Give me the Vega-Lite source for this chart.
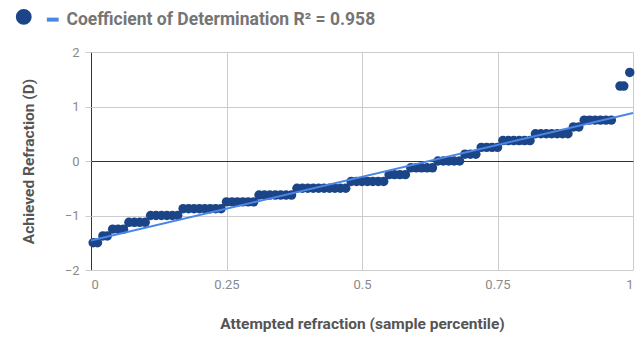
{
  "$schema": "https://vega.github.io/schema/vega-lite/v6.json",
  "width": 542,
  "height": 218,
  "autosize": "none",
  "padding": {"left": 91, "top": 52, "right": 8, "bottom": 67},
  "background": "white",
  "config": {
    "font": "Roboto",
    "view": {"stroke": null},
    "axis": {"labelFont": "Roboto", "labelColor": "#8a8a8a", "labelFontSize": 12, "titleFont": "Roboto", "titleColor": "#555555", "titleFontSize": 15.5, "titleFontWeight": "bold", "domain": false, "gridColor": "#cccccc", "gridOpacity": 1}
  },
  "datasets": {
    "pts": [
      {"x": 0.004, "y": -1.5}, {"x": 0.012, "y": -1.5},
      {"x": 0.022, "y": -1.375}, {"x": 0.03, "y": -1.375},
      {"x": 0.04, "y": -1.25}, {"x": 0.05, "y": -1.25}, {"x": 0.06, "y": -1.25},
      {"x": 0.07, "y": -1.125}, {"x": 0.08, "y": -1.125}, {"x": 0.09, "y": -1.125}, {"x": 0.1, "y": -1.125},
      {"x": 0.11, "y": -1.0}, {"x": 0.12, "y": -1.0}, {"x": 0.13, "y": -1.0}, {"x": 0.14, "y": -1.0}, {"x": 0.15, "y": -1.0}, {"x": 0.16, "y": -1.0},
      {"x": 0.17, "y": -0.875}, {"x": 0.18, "y": -0.875}, {"x": 0.19, "y": -0.875}, {"x": 0.2, "y": -0.875}, {"x": 0.21, "y": -0.875}, {"x": 0.22, "y": -0.875}, {"x": 0.23, "y": -0.875}, {"x": 0.24, "y": -0.875},
      {"x": 0.25, "y": -0.75}, {"x": 0.26, "y": -0.75}, {"x": 0.27, "y": -0.75}, {"x": 0.28, "y": -0.75}, {"x": 0.29, "y": -0.75}, {"x": 0.3, "y": -0.75},
      {"x": 0.31, "y": -0.625}, {"x": 0.32, "y": -0.625}, {"x": 0.33, "y": -0.625}, {"x": 0.34, "y": -0.625}, {"x": 0.35, "y": -0.625}, {"x": 0.36, "y": -0.625}, {"x": 0.37, "y": -0.625},
      {"x": 0.38, "y": -0.5}, {"x": 0.39, "y": -0.5}, {"x": 0.4, "y": -0.5}, {"x": 0.41, "y": -0.5}, {"x": 0.42, "y": -0.5}, {"x": 0.43, "y": -0.5}, {"x": 0.44, "y": -0.5}, {"x": 0.45, "y": -0.5}, {"x": 0.46, "y": -0.5}, {"x": 0.47, "y": -0.5},
      {"x": 0.48, "y": -0.375}, {"x": 0.49, "y": -0.375}, {"x": 0.5, "y": -0.375}, {"x": 0.51, "y": -0.375}, {"x": 0.52, "y": -0.375}, {"x": 0.53, "y": -0.375}, {"x": 0.54, "y": -0.375},
      {"x": 0.55, "y": -0.25}, {"x": 0.56, "y": -0.25}, {"x": 0.57, "y": -0.25}, {"x": 0.58, "y": -0.25},
      {"x": 0.59, "y": -0.125}, {"x": 0.6, "y": -0.125}, {"x": 0.61, "y": -0.125}, {"x": 0.62, "y": -0.125}, {"x": 0.63, "y": -0.125},
      {"x": 0.64, "y": 0}, {"x": 0.65, "y": 0}, {"x": 0.66, "y": 0}, {"x": 0.67, "y": 0}, {"x": 0.68, "y": 0},
      {"x": 0.69, "y": 0.125}, {"x": 0.7, "y": 0.125}, {"x": 0.71, "y": 0.125},
      {"x": 0.72, "y": 0.25}, {"x": 0.73, "y": 0.25}, {"x": 0.74, "y": 0.25}, {"x": 0.75, "y": 0.25},
      {"x": 0.76, "y": 0.375}, {"x": 0.77, "y": 0.375}, {"x": 0.78, "y": 0.375}, {"x": 0.79, "y": 0.375}, {"x": 0.8, "y": 0.375}, {"x": 0.81, "y": 0.375},
      {"x": 0.82, "y": 0.5}, {"x": 0.83, "y": 0.5}, {"x": 0.84, "y": 0.5}, {"x": 0.85, "y": 0.5}, {"x": 0.86, "y": 0.5}, {"x": 0.87, "y": 0.5}, {"x": 0.88, "y": 0.5},
      {"x": 0.89, "y": 0.625}, {"x": 0.9, "y": 0.625},
      {"x": 0.91, "y": 0.75}, {"x": 0.92, "y": 0.75}, {"x": 0.93, "y": 0.75}, {"x": 0.94, "y": 0.75}, {"x": 0.95, "y": 0.75}, {"x": 0.96, "y": 0.75},
      {"x": 0.976, "y": 1.375}, {"x": 0.983, "y": 1.375},
      {"x": 0.994, "y": 1.625}
    ],
    "trend": [{"x": 0, "y": -1.46}, {"x": 1, "y": 0.88}]
  },
  "encoding": {
    "x": {"field": "x", "type": "quantitative", "scale": {"domain": [0, 1], "nice": false},
      "axis": {"values": [0, 0.25, 0.5, 0.75, 1], "labelExpr": "'' + datum.value", "ticks": false, "labelPadding": 8, "labelFontSize": 13, "title": "Attempted refraction (sample percentile)", "titlePadding": 25,
        "gridColor": {"condition": {"test": "datum.value === 0", "value": "#333333"}, "value": "#cccccc"}}},
    "y": {"field": "y", "type": "quantitative", "scale": {"domain": [-2, 2], "nice": false},
      "axis": {"values": [-2, -1, 0, 1, 2], "tickSize": 6, "tickColor": "#cccccc", "labelPadding": 6, "labelFontSize": 13, "title": "Achieved Refraction (D)", "titlePadding": 28,
        "gridColor": {"condition": {"test": "datum.value === 0", "value": "#333333"}, "value": "#cccccc"}}}
  },
  "layer": [
    {
      "data": {"name": "pts"},
      "mark": {"type": "point", "filled": true, "opacity": 1, "size": 90},
      "encoding": {
        "color": {"datum": "Data", "type": "nominal", "scale": {"domain": ["Data", "Coefficient of Determination R² = 0.958"], "range": ["#1c4587", "#4a86e8"]},
          "legend": {"orient": "none", "legendX": -76, "legendY": -44, "direction": "horizontal", "title": null, "labelFont": "Roboto", "labelFontSize": 17.5, "labelFontWeight": "bold", "labelColor": "#757575", "labelLimit": 0, "symbolSize": 140, "symbolStrokeWidth": 4, "columnPadding": 0, "labelOffset": 5, "labelExpr": "datum.label == 'Data' ? '' : datum.label"}},
        "shape": {"datum": "Data", "type": "nominal", "scale": {"domain": ["Data", "Coefficient of Determination R² = 0.958"], "range": ["circle", "stroke"]}}
      }
    },
    {
      "data": {"name": "trend"},
      "mark": {"type": "line", "strokeWidth": 2},
      "encoding": {
        "color": {"datum": "Coefficient of Determination R² = 0.958", "type": "nominal"}
      }
    }
  ]
}
